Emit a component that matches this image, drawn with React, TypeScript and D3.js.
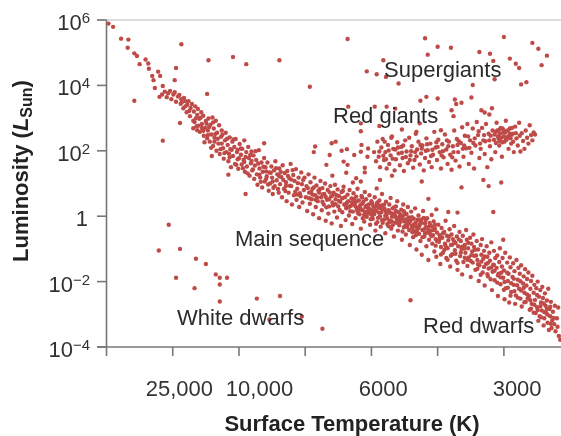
import React from "react";
import * as d3 from "d3";

// x = position along the (non-uniform) temperature axis, 100 units per tick; y = log10(L/Lsun) x 100
const xTickPositions = [100, 200, 300, 400, 500, 600];
const xTickLabels: [string, number][] = [["25,000", 110], ["10,000", 231], ["6000", 418], ["3000", 620]];
const yTicks: [number, string, string][] = [[600, "10", "6"], [400, "10", "4"], [200, "10", "2"], [0, "1", ""], [-200, "10", "\u22122"], [-400, "10", "\u22124"]];

const scattered: [number, number][] = [
  [3,589],[10,579],[22,543],[33,540],[32,515],[42,498],[46,490],[50,465],[59,479],[63,467],[64,451],[69,429],[71,416],[78,442],[81,429],[73,392],[85,398],[80,365],
  [103,416],[105,453],[113,526],[154,477],[191,487],[211,465],[261,477],[42,353],[85,231],[152,374],[111,285],[210,68],[184,127],[238,223],
  [364,542],[481,544],[500,518],[520,515],[485,494],[563,502],[579,497],[600,548],[643,530],[652,512],[665,491],[657,462],[609,482],[618,466],[623,453],[584,475],[586,419],[626,403],[634,410],[553,401],
  [418,477],[393,443],[408,434],[422,426],[441,406],[307,396],[483,365],[474,353],[500,360],[526,357],[528,343],[536,347],[551,363],[521,324],[524,306],[566,324],[571,317],[578,311],[582,330],
  [365,335],[405,335],[423,335],[436,329],[384,284],[384,260],[412,276],[446,265],[468,258],[473,284],[505,263],[430,240],[420,228],
  [346,228],[340,223],[315,213],[313,196],[337,187],[355,200],[363,205],[385,218],[384,197],[374,187],[395,207],[394,182],[358,167],[364,157],[332,157],[390,148],[390,134],[362,133],[341,124],[372,103],[377,116],[384,106],[413,111],[431,124],[408,85],[476,106],[536,88],[569,111],[577,92],[596,103],[486,53],[584,13],[530,11],[516,13],[498,21],
];

const whiteDwarfs: [number, number][] = [
  [94,-26],[79,-105],[111,-100],[135,-130],[150,-146],[165,-178],[171,-188],[182,-188],[105,-188],[133,-220],[171,-209],[171,-261],[227,-252],[262,-244],[246,-316],[295,-307],[326,-344],[459,-257],[599,-72],[682,-279],
];

const mainUpper: [number, number][] = [
  [84,372],[88,381],[91,364],[93,376],[96,383],[98,358],[101,372],[103,379],[105,350],[108,366],[110,371],[112,344],[113,358],[116,330],[117,362],[119,352],[121,318],[122,341],[124,352],[126,306],[127,331],[129,343],[131,292],[132,320],[134,336],[136,275],[137,310],[138,328],[140,298],[141,258],[143,318],[144,282],[146,307],[147,246],[149,270],[150,291],[152,238],[153,262],[154,299],[156,228],[157,280],[158,250],[159,184],[160,302],[161,215],[162,268],[163,240],[165,292],[166,200],[167,255],[169,222],[170,278],[171,190],[173,243],[174,262],[176,208],[177,176],[179,232],[180,255],[181,196],[183,218],[184,168],[186,241],[187,205],[188,150],[190,228],[191,184],[193,212],[194,160],[195,236],[197,196],[198,174],[199,145],[201,221],[203,188],[204,158],[205,206],[207,172],[208,232],[209,136],[211,196],[212,152],[214,212],[215,178],[216,124],[218,162],[219,198],[220,140],[222,186],[223,114],[224,155],[226,172],[227,128],[228,96],[230,202],[231,146],[232,118],[234,164],[235,88],[236,136],[238,178],[239,106],[240,150],[242,122],[243,164],[245,78],[246,134],[247,100],[249,152],[250,118],[251,68],[253,140],[254,92],[255,168],[257,110],[258,128],[260,72],[261,146],[262,98],[264,120],[265,58],[266,156],[268,84],[269,132],[271,104],[272,46],[273,138],[275,72],[276,116],[278,160],[279,92],[280,36],[282,126],[283,64],[284,108],[286,144],[287,50],[288,84],[290,118],[291,28],[292,70],[294,134],[295,98],[296,42],[298,80],[299,118],
  [133,288],[137,263],[131,269],[142,301],[139,277],[146,261],[151,283],[148,226],[155,273],[158,209],[164,251],[161,287],[168,237],[172,205],[175,249],[178,193],[182,237],[185,191],[189,203],[192,235],[196,157],[200,177],[203,207],[206,147],[210,181],[213,131],[217,187],[221,143],[225,199],[229,161],[233,105],[237,151],[241,137],[244,97],[248,133],[252,87],[256,147],[259,83],[263,135],[267,111],[270,77],[274,123],[277,93],[281,141],[285,75],[289,101],[293,61],[297,111],[114,349],[119,336],[125,322],[135,300],[144,270],[153,248],[163,228],[174,222],[186,180],[198,203],[208,166],[219,169],[231,127],[241,114],[251,106],[261,122],[271,93],[279,112],[288,66],
];

const mainMiddle: [number, number][] = [
  [301,58],[302,92],[303,16],[305,128],[306,72],[307,38],[308,104],[310,52],[311,84],[312,6],[314,118],[315,64],[316,28],[317,94],[319,46],[320,78],[321,-6],[323,108],[324,58],[325,18],[326,86],[328,36],[329,68],[330,100],[331,-14],[333,50],[334,80],[335,8],[336,30],[338,92],[339,60],[340,-22],[341,42],[343,72],[344,14],[345,96],[346,52],[348,-4],[349,82],[350,30],[351,62],[353,44],[354,-30],[355,74],[356,12],[358,90],[359,36],[360,58],[361,-12],[362,24],[364,66],[365,46],[366,2],[367,80],[369,32],[370,54],[371,-24],[372,14],[373,70],[375,40],[376,-6],[377,60],[378,22],[379,84],[381,48],[382,6],[383,34],[384,-38],[385,62],[387,18],[388,44],[389,-16],[390,74],[391,28],[392,52],[393,-2],[394,10],[396,36],[397,64],[398,-26],[399,20],[400,46],[402,-8],[403,30],[404,6],[405,58],[406,-44],[407,16],[408,38],[409,-18],[411,26],[412,48],[413,0],[414,-32],[415,12],[416,68],[417,34],[419,-10],[420,22],[421,-52],[422,44],[423,4],[424,-24],[425,14],[427,36],[428,-14],[429,56],[430,-38],[431,-2],[432,24],[433,8],[434,-62],[436,-20],[437,30],[438,-6],[439,46],[440,-44],[441,12],[442,-28],[443,-12],[445,20],[446,-72],[447,0],[448,36],[449,-34],[450,-16],[451,6],[452,-56],[454,-24],[455,28],[456,-4],[457,-42],[458,-88],[459,-14],[460,14],[461,-30],[463,-64],[464,-8],[465,-46],[466,24],[467,-20],[468,-102],[469,-36],[471,2],[472,-54],[473,-26],[474,-76],[475,-10],[476,-118],[477,-42],[478,16],[480,-62],[481,-22],[482,-34],[483,-92],[484,-6],[485,-50],[486,-134],[487,-72],[489,-28],[490,-44],[491,4],[492,-84],[493,-58],[494,-16],[495,-108],[496,-38],[497,-70],[498,-124],[499,-50],
  [304,86],[309,74],[313,88],[318,57],[322,83],[327,67],[332,27],[337,73],[342,33],[347,65],[352,19],[357,77],[363,41],[368,15],[374,53],[380,9],[386,57],[395,17],[401,39],[410,-5],[418,21],[426,-31],[435,5],[444,-17],[453,7],[462,-49],[470,-11],[479,-41],[488,-21],[306,55],[311,66],[316,50],[321,72],[326,44],[331,59],[336,52],[341,63],[346,37],[351,47],[356,55],[361,33],[366,28],[371,43],[376,30],[381,26],[386,38],[391,12],[396,24],[401,3],[406,29],[411,11],[416,-12],[421,2],[426,18],[431,-16],[436,-1],[441,-23],[446,-8],[451,-30],[456,-15],[461,-3],[466,-29],[471,-37],[476,-20],[481,-52],[486,-33],[491,-61],[496,-26],[379,14],[384,22],[389,4],[394,33],[399,-9],[404,18],[409,42],[414,25],[419,35],[424,-7],[429,10],[434,27],[439,-12],[444,5],[449,15],[454,-33],[459,-7],[464,-25],[469,-48],[474,-17],[479,-5],[484,-38],[489,-55],[494,-42],[499,-76],[372,37],[377,45],[382,20],[387,-6],[392,31],[397,8],[402,15],[407,-23],[412,33],[417,-20],[422,14],[427,-18],[432,-28],[437,16],[442,-2],[447,-47],[452,-10],[457,-22],[462,-36],[467,-58],[472,-30],[477,-64],[482,-12],[487,-46],[492,-32],[497,-90],
];

const mainLower: [number, number][] = [
  [501,-26],[502,-78],[503,-58],[504,-146],[505,-94],[506,-36],[507,-66],[508,-112],[510,-48],[511,-84],[512,-14],[513,-128],[514,-60],[515,-98],[516,-74],[518,-40],[519,-154],[520,-88],[521,-56],[522,-116],[523,-70],[525,-30],[526,-104],[527,-82],[528,-136],[529,-62],[530,-164],[531,-92],[533,-48],[534,-122],[535,-76],[536,-100],[537,-178],[538,-60],[539,-140],[541,-88],[542,-112],[543,-42],[544,-72],[545,-152],[546,-98],[547,-126],[549,-66],[550,-186],[551,-84],[552,-108],[553,-142],[554,-56],[555,-94],[557,-164],[558,-120],[559,-76],[560,-134],[561,-102],[562,-198],[563,-150],[565,-88],[566,-118],[567,-70],[568,-172],[569,-130],[570,-106],[571,-212],[573,-146],[574,-92],[575,-124],[576,-184],[577,-160],[578,-112],[579,-136],[581,-80],[582,-226],[583,-170],[584,-148],[585,-106],[586,-196],[587,-128],[589,-158],[590,-120],[591,-244],[592,-176],[593,-140],[594,-98],[595,-208],[597,-154],[598,-128],[599,-188],[600,-166],[601,-254],[602,-112],[603,-220],[605,-142],[606,-198],[607,-176],[608,-264],[609,-126],[610,-156],[611,-232],[613,-186],[614,-144],[615,-210],[616,-168],[617,-268],[618,-242],[619,-134],[621,-194],[622,-158],[623,-222],[624,-176],[625,-252],[626,-150],[627,-276],[629,-206],[630,-184],[631,-234],[632,-162],[633,-262],[634,-212],[635,-192],[637,-172],[638,-244],[639,-286],[640,-222],[641,-198],[642,-268],[643,-182],[645,-234],[646,-210],[647,-256],[648,-296],[649,-220],[650,-278],[651,-200],[653,-246],[654,-306],[655,-226],[656,-264],[657,-288],[658,-216],[659,-250],[661,-312],[662,-236],[663,-274],[664,-296],[665,-258],[666,-326],[667,-222],[669,-284],[670,-306],[671,-262],[672,-342],[673,-318],[674,-292],[676,-330],[677,-274],[678,-352],[680,-312],[681,-338],[683,-366],[685,-378],[668,-348],[660,-334],[652,-320],
  [503,-69],[508,-52],[512,-91],[517,-63],[522,-87],[527,-115],[532,-71],[537,-93],[541,-127],[546,-81],[551,-119],[556,-103],[561,-147],[566,-139],[571,-123],[576,-143],[581,-157],[586,-167],[591,-181],[596,-173],[601,-201],[606,-219],[611,-205],[616,-229],[621,-249],[626,-227],[631,-263],[636,-251],[641,-283],[646,-271],[651,-287],[656,-309],[661,-293],[666,-301],[671,-329],[505,-117],[510,-103],[515,-133],[520,-121],[525,-77],[530,-143],[535,-111],[540,-99],[545,-133],[550,-137],[555,-121],[560,-161],[565,-179],[570,-155],[575,-177],[580,-193],[585,-149],[590,-203],[595,-187],[600,-225],[605,-173],[610,-243],[615,-191],[620,-211],[625,-199],[630,-219],[635,-239],[640,-257],[645,-295],[650,-241],[655,-275],[660,-267],[665,-283],[670,-277],[675,-311],
];

const redGiants: [number, number][] = [
  [404,196],[407,168],[409,228],[411,182],[413,150],[415,210],[417,236],[419,172],[421,196],[423,146],[425,218],[427,160],[429,186],[431,244],[433,206],[435,140],[437,174],[439,226],[441,192],[443,156],[445,212],[447,178],[449,138],[451,232],[453,198],[455,162],[457,240],[459,186],[461,214],[463,148],[465,172],[467,252],[469,204],[471,228],[473,158],[475,192],[477,216],[479,140],[481,178],[483,238],[485,202],[487,166],[489,222],[491,150],[493,188],[495,258],[497,210],[499,172],[501,234],[503,196],[505,146],[507,220],[509,180],[511,250],[513,204],[515,160],[517,228],[519,188],[521,142],[523,214],[525,262],[527,170],[529,236],[531,196],[533,152],[535,224],[537,272],[539,182],[541,246],[543,208],[545,282],[547,160],[549,232],[551,194],[553,268],[555,146],[557,216],[559,288],[561,248],[563,178],[565,206],[567,270],[569,232],[571,190],[573,282],[575,150],[577,252],[579,214],[581,174],[583,262],[585,234],[587,196],[589,286],[591,244],[593,216],[595,270],[597,182],[599,256],[601,228],[603,292],[605,240],[607,206],[609,268],[611,222],[613,252],[615,196],[617,274],[619,238],[621,216],[623,286],[625,198],[627,254],[629,230],[631,206],[633,262],[635,240],[637,222],[639,278],[641,248],[643,232],[645,256],[647,250],
  [586,250],[590,262],[592,236],[594,252],[596,240],[598,268],[600,244],[602,256],[604,234],[606,262],[608,246],[610,238],[612,270],[614,228],[598,226],[588,224],[422,174],[436,204],[448,216],[458,172],[466,196],[474,218],[482,200],[490,184],[498,226],[506,186],[514,232],[522,180],[530,218],[538,206],[546,244],[554,224],[562,260],[570,248],[578,232],
  [412,198],[418,185],[426,201],[432,176],[440,210],[446,194],[452,181],[460,199],[468,183],[476,207],[484,220],[492,203],[500,212],[508,199],[516,214],[524,196],[532,229],[540,216],[548,209],[556,238],[564,222],[572,229],[580,246],[588,258],[594,229],[600,262],[606,242],[612,249],[618,254],[624,246],[593,264],[603,238],[609,252],
];

const xScale = d3.scaleLinear().domain([0, 687]).range([106.5, 561.5]);
const yScale = d3.scaleLinear().domain([-400, 600]).range([347, 20]);

const dots: [number, number][] = [...scattered, ...whiteDwarfs, ...mainUpper, ...mainMiddle, ...mainLower, ...redGiants];

const font = "'Liberation Sans', Arial, sans-serif";
const textColor = "#333";
const axisColor = "#777";

export default function App() {
  const x0 = xScale(0);
  const yBottom = yScale(-400);
  return (
    <svg width={561} height={436} style={{ position: "absolute", left: 0, top: 0, background: "#fff" }} fontFamily={font}>
      <defs>
        <filter id="soft" x="-5%" y="-5%" width="110%" height="110%">
          <feGaussianBlur stdDeviation="0.45" />
        </filter>
      </defs>
      <g filter="url(#soft)">
        <line x1={97} x2={561} y1={yScale(600)} y2={yScale(600)} stroke="#dcdcdc" strokeWidth={2} />
        <line x1={x0} x2={x0} y1={yScale(600)} y2={356} stroke={axisColor} strokeWidth={1.6} />
        <line x1={97} x2={561} y1={yBottom} y2={yBottom} stroke={axisColor} strokeWidth={1.6} />
        {yTicks.map(([v]) => (
          <line key={v} x1={97} x2={x0} y1={yScale(v)} y2={yScale(v)} stroke={axisColor} strokeWidth={1.6} />
        ))}
        {xTickPositions.map((v) => (
          <line key={v} x1={xScale(v)} x2={xScale(v)} y1={yBottom} y2={356} stroke={axisColor} strokeWidth={1.6} />
        ))}
        {dots.map(([x, y], i) => (
          <circle key={i} cx={xScale(x)} cy={yScale(y)} r={2.2} fill="#bf4b48" />
        ))}
        <g fill={textColor} fontSize={22}>
          {yTicks.map(([v, base, sup]) => (
            <text key={v} x={sup ? 90 : 88} y={yScale(v) + 10} textAnchor="end">
              {base}
              {sup && <tspan fontSize={15} dy={-7}>{sup}</tspan>}
            </text>
          ))}
          {xTickLabels.map(([label, p]) => (
            <text key={label} x={xScale(p)} y={396} textAnchor="middle">{label}</text>
          ))}
          <text x={384} y={77} fill="#2b2b2b">Supergiants</text>
          <text x={333} y={123} fill="#2b2b2b">Red giants</text>
          <text x={235} y={246} fill="#2b2b2b">Main sequence</text>
          <text x={177} y={325} fill="#2b2b2b">White dwarfs</text>
          <text x={423} y={333} fill="#2b2b2b">Red dwarfs</text>
        </g>
        <text x={352} y={431} textAnchor="middle" fontWeight="bold" fontSize={22} fill="#222">Surface Temperature (K)</text>
        <text transform="translate(28,171) rotate(-90)" textAnchor="middle" fontWeight="bold" fontSize={22} fill="#222">
          Luminosity (<tspan fontStyle="italic">L</tspan>
          <tspan fontSize={16} dy={4}>Sun</tspan>
          <tspan dy={-4}>)</tspan>
        </text>
      </g>
    </svg>
  );
}
